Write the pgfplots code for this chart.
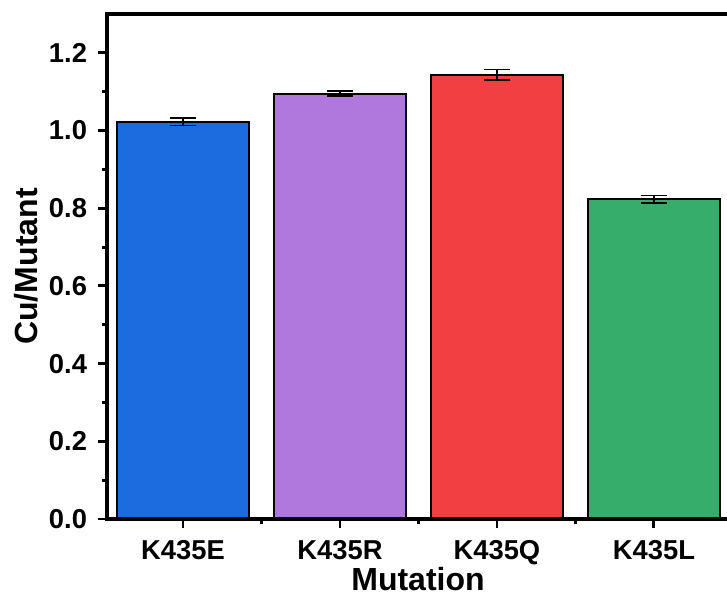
\documentclass[border=0pt]{standalone}
\usepackage{pgfplots}
\pgfplotsset{compat=1.18}
\usepackage{fontspec}
\setmainfont{Liberation Sans}
\definecolor{cblue}{HTML}{1B6DDF}
\definecolor{cpurple}{HTML}{B077DC}
\definecolor{cred}{HTML}{F24042}
\definecolor{cgreen}{HTML}{37AD6B}
\begin{document}
\begin{tikzpicture}
\begin{axis}[
  scale only axis,
  width=466.5pt, height=378.75pt,
  xmin=-0.484, xmax=3.478,
  ymin=0, ymax=1.3,
  axis line style={line width=2.4pt},
  tick align=outside,
  xtick pos=bottom, ytick pos=left,
  xtick={0,1,2,3},
  xticklabels={K435E,K435R,K435Q,K435L},
  minor xtick={0.5,1.5,2.5},
  ytick={0,0.2,0.4,0.6,0.8,1.0,1.2},
  minor ytick={0.1,0.3,0.5,0.7,0.9,1.1},
  major tick length=6.5pt, minor tick length=4pt,
  every tick/.style={line width=2.2pt, black},
  /pgf/number format/assume math mode=true,
  yticklabel style={/pgf/number format/fixed, /pgf/number format/fixed zerofill, /pgf/number format/precision=1, xshift=-5pt},
  xticklabel style={yshift=-6pt},
  tick label style={font=\fontsize{20.5}{23}\selectfont\bfseries},
  xlabel={Mutation}, ylabel={Cu/Mutant},
  label style={font=\fontsize{24}{28}\selectfont\bfseries},
  xlabel style={inner sep=0pt, yshift=2pt},
  ylabel style={yshift=1pt},
  clip=false,
  error bars/y dir=both, error bars/y explicit,
  error bars/error bar style={line width=1.3pt, black},
  error bars/error mark options={rotate=90, mark size=10pt, line width=1.3pt, black},
]
\addplot[ybar, bar width=0.84, bar shift=0pt, fill=cblue, draw=black, line width=1.6pt] coordinates {(0,1.023) +- (0,0.010)};
\addplot[ybar, bar width=0.84, bar shift=0pt, fill=cpurple, draw=black, line width=1.6pt] coordinates {(1,1.095) +- (0,0.006)};
\addplot[ybar, bar width=0.84, bar shift=0pt, fill=cred, draw=black, line width=1.6pt] coordinates {(2,1.144) +- (0,0.013)};
\addplot[ybar, bar width=0.84, bar shift=0pt, fill=cgreen, draw=black, line width=1.6pt] coordinates {(3,0.823) +- (0,0.010)};
\draw[line width=2.4pt] (rel axis cs:0,0) rectangle (rel axis cs:1,1);
\coordinate (sw) at (rel axis cs:0,0);
\coordinate (ne) at (rel axis cs:1,1);
\end{axis}
\pgfresetboundingbox
\path[use as bounding box] ([shift={(-80.25pt,-57.75pt)}]sw) rectangle ([shift={(-1.5pt,10.5pt)}]ne);
\end{tikzpicture}
\end{document}
